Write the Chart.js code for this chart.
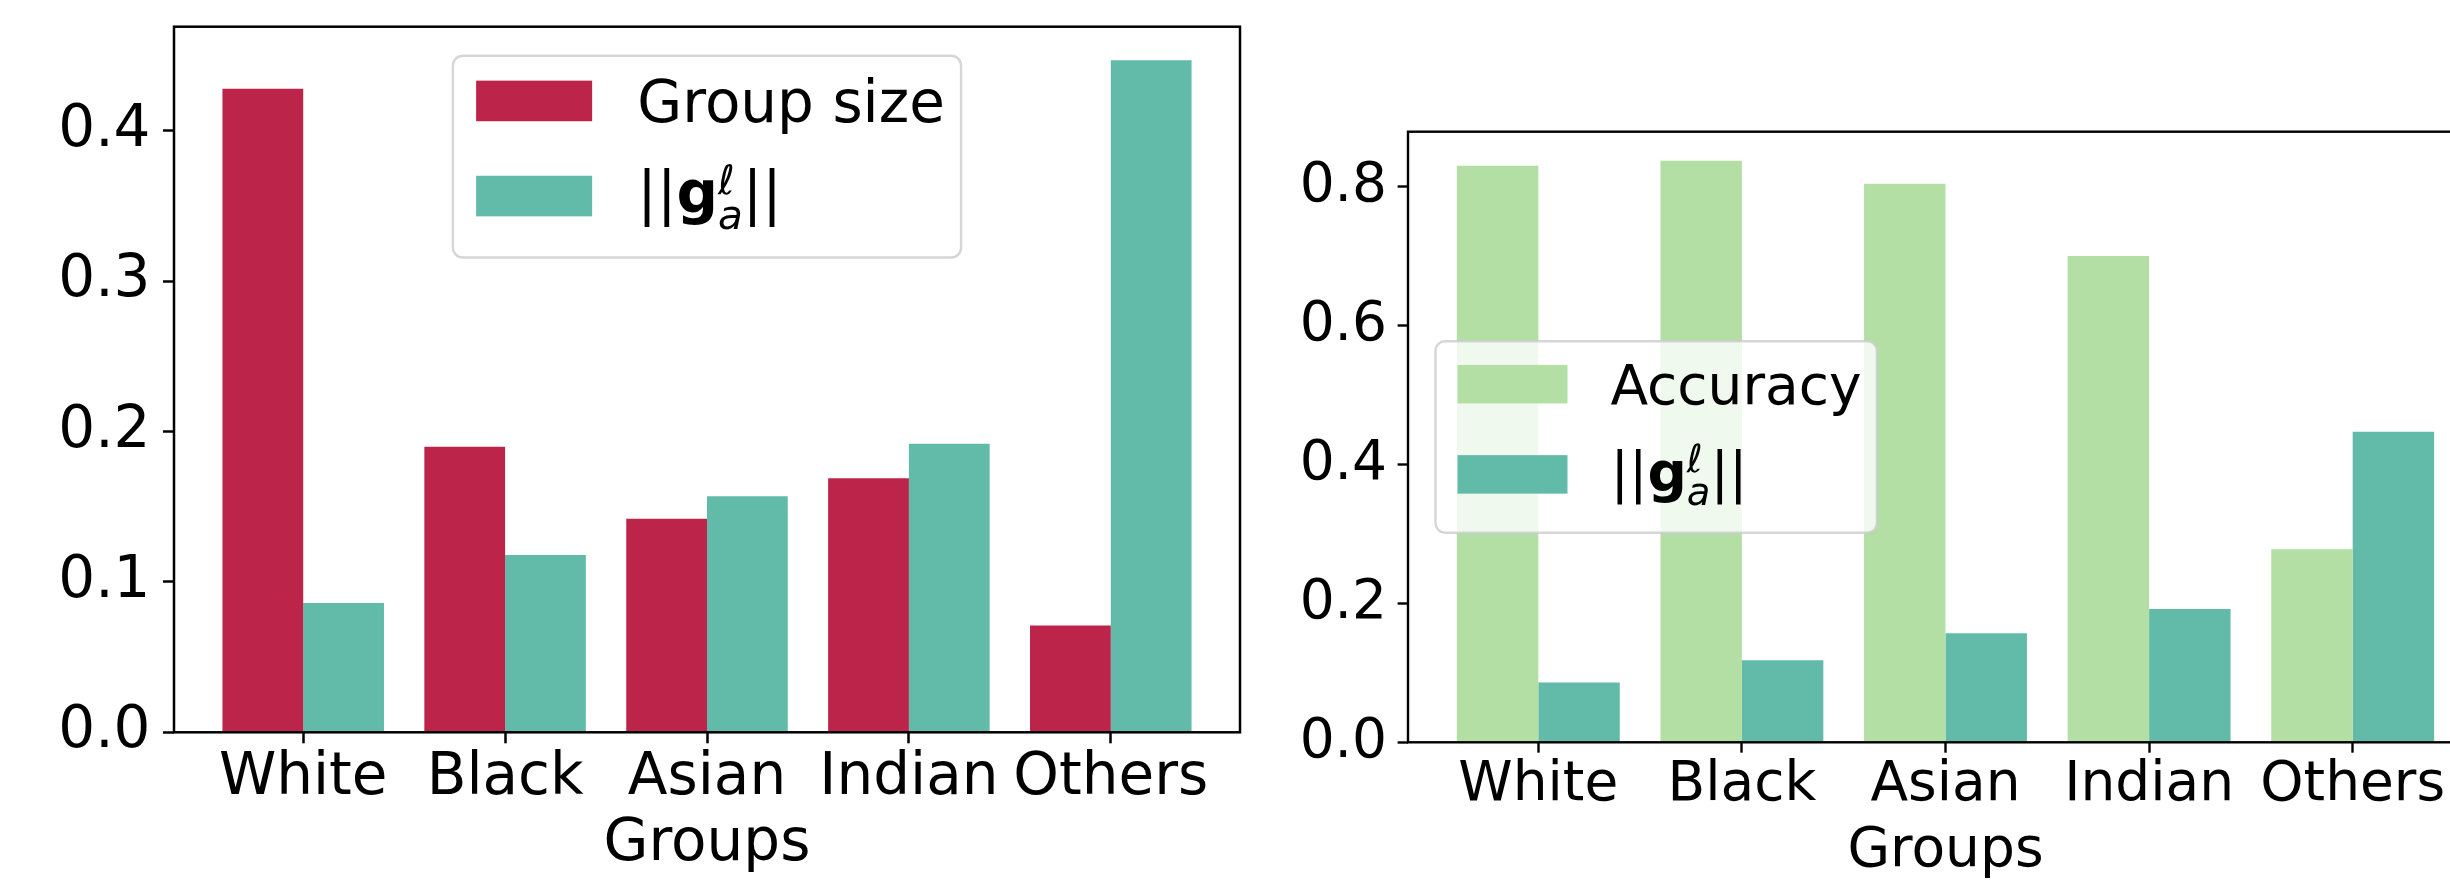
<!DOCTYPE html>
<html>
<head>
<meta charset="utf-8">
<title>Groups</title>
<script src="https://cdn.jsdelivr.net/npm/chart.js@4.4.1/dist/chart.umd.min.js"></script>
<style>
  html, body { margin: 0; padding: 0; width: 2450px; height: 880px; overflow: hidden; background: #fff; }
  canvas { position: absolute; top: 0; }
  #sizeChart { left: 0; }
  #accChart { left: 1245px; }
</style>
</head>
<body>
<canvas id="sizeChart" width="1245" height="880" style="width:1245px;height:880px"></canvas>
<canvas id="accChart" width="1305" height="890" style="width:1305px;height:890px"></canvas>
<script>
// ---- data ----
const groups = ['White', 'Black', 'Asian', 'Indian', 'Others'];
const groupSize = [0.428, 0.190, 0.142, 0.169, 0.071];
const gradNorm = [0.086, 0.118, 0.157, 0.192, 0.447];
const accuracy = [0.830, 0.837, 0.804, 0.700, 0.278];
const sizeTicks = [0.0, 0.1, 0.2, 0.3, 0.4];
const accTicks = [0.0, 0.2, 0.4, 0.6, 0.8];
const xTitle = 'Groups';
const sizeLabel = 'Group size';
const accLabel = 'Accuracy';
// ||g_a^l|| written as styled pieces
const normLabelParts = [
  { t: '||' },
  { t: 'g', bold: true },
  { sup: '\u2113', sub: 'a' },
  { t: '||' }
];

// ---- styles ----
const RED = '#bc2449';
const TEAL = '#61bba8';
const GREEN = '#b3dfa5';
const FAMILY = '"DejaVu Sans", "Liberation Sans", sans-serif';

Chart.defaults.font.family = FAMILY;
Chart.defaults.color = '#000';

// draw a list of text pieces (plain / bold / stacked super+subscript); returns the advance width
function drawParts(ctx, parts, x, base, fs, draw) {
  let cx = x;
  ctx.textAlign = 'left';
  ctx.textBaseline = 'alphabetic';
  ctx.fillStyle = '#000';
  for (const p of parts) {
    if (p.sup !== undefined || p.sub !== undefined) {
      const sfs = fs * 0.7;
      ctx.font = `${sfs}px ${FAMILY}`;
      const w1 = ctx.measureText(p.sup).width;
      if (draw) ctx.fillText(p.sup, cx, base - 0.34 * fs);
      ctx.font = `italic ${sfs}px ${FAMILY}`;
      const w2 = ctx.measureText(p.sub).width;
      if (draw) ctx.fillText(p.sub, cx, base + 0.26 * fs);
      cx += Math.max(w1, w2);
    } else {
      ctx.font = `${p.bold ? 'bold ' : ''}${fs}px ${FAMILY}`;
      if (draw) ctx.fillText(p.t, cx, base);
      cx += ctx.measureText(p.t).width;
    }
  }
  return cx - x;
}

// legend box inside the plot area, laid out in font-size units
const boxLegend = {
  id: 'boxLegend',
  afterDraw(chart, args, opts) {
    const { ctx, chartArea: a } = chart;
    const fs = opts.fontSize;
    const items = chart.data.datasets.map(ds => ({
      color: ds.backgroundColor,
      parts: ds.labelParts || [{ t: ds.label }]
    }));
    ctx.save();
    const widths = items.map(it => drawParts(ctx, it.parts, 0, 0, fs, false));
    const w = fs * 3.46 + Math.max(...widths);
    const h = fs * 3.48;
    let x, y;
    if (opts.loc === 'upper center') {
      x = (a.left + a.right) / 2 - w / 2;
      y = a.top + 0.5 * fs;
    } else {
      x = a.left + 0.5 * fs;
      y = (a.top + a.bottom) / 2 - h / 2;
    }
    const r = 0.17 * fs;
    ctx.beginPath();
    ctx.roundRect(x, y, w, h, r);
    ctx.fillStyle = 'rgba(255,255,255,0.8)';
    ctx.fill();
    ctx.lineWidth = 2.4;
    ctx.strokeStyle = 'rgba(204,204,204,0.8)';
    ctx.stroke();
    items.forEach((it, i) => {
      const px = x + 0.4 * fs;
      const py = y + 0.43 * fs + i * 1.64 * fs;
      ctx.fillStyle = it.color;
      ctx.fillRect(px, py, 2 * fs, 0.7 * fs);
      const cy = py + 0.35 * fs;
      const base = cy + (it.parts.length > 1 ? 0.30 : 0.36) * fs;
      drawParts(ctx, it.parts, px + 2.78 * fs, base, fs, true);
    });
    ctx.restore();
  }
};

// four-sided axes frame
const axesFrame = {
  id: 'axesFrame',
  afterDatasetsDraw(chart, args, opts) {
    const { ctx, chartArea: a } = chart;
    ctx.save();
    ctx.strokeStyle = '#000';
    ctx.lineWidth = opts.width;
    ctx.strokeRect(a.left, a.top, a.right - a.left, a.bottom - a.top);
    ctx.restore();
  }
};

function makeChart(id, cfg) {
  const fs = cfg.fontSize;
  const tickMark = {
    display: true, drawOnChartArea: false, drawTicks: true, offset: false,
    tickLength: cfg.tickLen, tickWidth: cfg.lineW, tickColor: '#000'
  };
  const yMax = Math.max(...cfg.datasets.flatMap(d => d.values)) * 1.05;
  return new Chart(document.getElementById(id), {
    type: 'bar',
    data: {
      datasets: cfg.datasets.map(d => ({
        label: d.label,
        labelParts: d.labelParts,
        data: d.values.map((v, i) => ({ x: i, y: v })),
        backgroundColor: d.color,
        borderWidth: 0,
        categoryPercentage: 0.8,
        barPercentage: 1.0
      }))
    },
    options: {
      responsive: false,
      animation: false,
      devicePixelRatio: 1,
      layout: { padding: cfg.padding },
      plugins: {
        legend: { display: false },
        tooltip: { enabled: false },
        boxLegend: { fontSize: fs, loc: cfg.legendLoc },
        axesFrame: { width: cfg.lineW }
      },
      scales: {
        x: {
          type: 'linear',
          min: -0.64, max: groups.length - 1 + 0.64,
          offset: false,
          grid: tickMark,
          border: { display: false },
          afterBuildTicks: s => { s.ticks = groups.map((g, i) => ({ value: i })); },
          ticks: {
            autoSkip: false, maxRotation: 0, minRotation: 0,
            padding: cfg.xPad, color: '#000', font: { size: fs },
            callback: v => groups[v]
          },
          title: {
            display: true, text: xTitle, color: '#000',
            font: { size: fs }, padding: { top: 0, bottom: cfg.titlePad }
          },
          afterFit: s => { s.height = cfg.xHeight; s.paddingLeft = 0; s.paddingRight = 0; }
        },
        y: {
          type: 'linear',
          min: 0, max: yMax,
          grid: tickMark,
          border: { display: false },
          afterBuildTicks: s => { s.ticks = cfg.yTicks.map(v => ({ value: v })); },
          ticks: {
            padding: cfg.yPad, color: '#000', font: { size: fs },
            callback: v => v.toFixed(1)
          },
          afterFit: s => { s.width = cfg.yWidth; s.paddingTop = 0; s.paddingBottom = 0; }
        }
      }
    },
    plugins: [axesFrame, boxLegend]
  });
}

// left panel: group size vs gradient norm
makeChart('sizeChart', {
  fontSize: 58, tickLen: 11, lineW: 2.5,
  padding: { left: 0, top: 26.7, right: 5, bottom: 0 },
  yWidth: 174, xHeight: 147.7, xPad: 1, yPad: 12.5, titlePad: 0,
  yTicks: sizeTicks, legendLoc: 'upper center',
  datasets: [
    { label: sizeLabel, values: groupSize, color: RED },
    { label: '||g||', labelParts: normLabelParts, values: gradNorm, color: TEAL }
  ]
});

// right panel: accuracy vs gradient norm
makeChart('accChart', {
  fontSize: 55, tickLen: 10.4, lineW: 2.4,
  padding: { left: 0, top: 131.7, right: 67, bottom: 0 },
  yWidth: 163, xHeight: 147.7, xPad: 0, yPad: 10.5, titlePad: 5,
  yTicks: accTicks, legendLoc: 'center left',
  datasets: [
    { label: accLabel, values: accuracy, color: GREEN },
    { label: '||g||', labelParts: normLabelParts, values: gradNorm, color: TEAL }
  ]
});
</script>
</body>
</html>
